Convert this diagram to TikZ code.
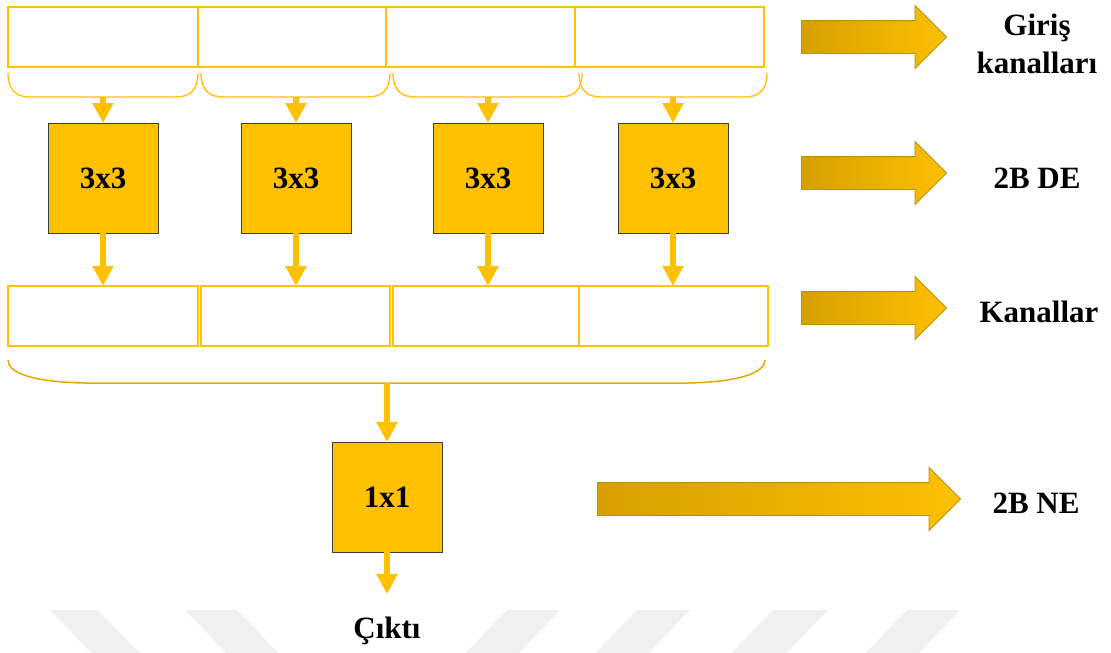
\documentclass[tikz,border=0pt]{standalone}
\usepackage{fontspec}
\setmainfont{Liberation Serif}
\usetikzlibrary{arrows.meta,shapes.arrows}
\definecolor{amber}{HTML}{FFC000}
\definecolor{amberdark}{HTML}{E2A800}
\definecolor{goldL}{HTML}{D6A000}
\definecolor{goldR}{HTML}{FCC000}
\definecolor{goldEdge}{HTML}{BF9000}
\definecolor{faint}{HTML}{F0F0F0}
\definecolor{boxedge}{HTML}{3F3F3F}

\tikzset{
  slot/.style={draw=amber, line width=1.3pt, minimum width=#1, minimum height=60pt,
    inner sep=0pt, outer sep=0pt},
  kernel/.style={fill=amber, draw=boxedge, line width=0.8pt, minimum size=110pt,
    inner sep=0pt, outer sep=0pt, font=\fontsize{31}{36}\selectfont\bfseries},
  flow/.style={draw=amber, line width=6pt, -{Triangle[width=20pt,length=20pt]}},
  bracket/.style={draw=amber, line width=1.3pt},
  bigbracket/.style={draw=amberdark, line width=1.5pt},
  bigarrow/.style={single arrow, single arrow head extend=15pt, single arrow tip angle=90,
    single arrow head indent=0pt, inner xsep=0pt, inner ysep=16pt, minimum height=#1,
    draw=goldEdge, line width=0.9pt, left color=goldL, right color=goldR, anchor=tail},
  caption/.style={font=\fontsize{31}{38}\selectfont\bfseries, inner sep=0pt, anchor=base},
  stripe/.style={fill=faint, draw=none}
}

\begin{document}
\begin{tikzpicture}[x=1pt,y=-1pt]
\useasboundingbox (0,0) rectangle (1111,653);

% faint slanted stripes along the lower edge
\foreach \a/\b in {50/98, 185/237}
  \fill[stripe] (\a,610) -- (\b,610) -- (\b+48,660) -- (\a+48,660) -- cycle;
\foreach \a/\b in {507/560, 637/690, 773/828, 907/960}
  \fill[stripe] (\a,610) -- (\b,610) -- (\b-48,660) -- (\a-48,660) -- cycle;

% input channels
\node[slot=190pt] (t1) at (103,37) {};
\node[slot=188pt] (t2) at (292,37) {};
\node[slot=189pt] (t3) at (480.5,37) {};
\node[slot=189pt] (t4) at (669.5,37) {};

% brackets grouping each input channel
\foreach \i/\a/\b in {1/8/198, 2/201/390, 3/393/582, 4/579/767} {
  \draw[bracket] (\a,73) .. controls (\a,90) and (\a+8,97) .. (\a+22,97)
    -- (\b-22,97) .. controls (\b-8,97) and (\b,90) .. (\b,73);
  \coordinate (b\i) at ({(\a+\b)/2},97);
}

% depthwise 3x3 kernels
\node[kernel] (k1) at (103,178) {3x3};
\node[kernel] (k2) at (296,178) {3x3};
\node[kernel] (k3) at (488,178) {3x3};
\node[kernel] (k4) at (673,178) {3x3};

% resulting channels
\node[slot=190pt] (m1) at (103,316) {};
\node[slot=189pt] (m2) at (295.5,316) {};
\node[slot=186pt] (m3) at (486,316) {};
\node[slot=189pt] (m4) at (673.5,316) {};

% bracket gathering all channels
\draw[bigbracket] (8,360) .. controls (8,372) and (30,382) .. (85,383)
  -- (687,383) .. controls (742,382) and (765,372) .. (765,360);
\coordinate (g) at (387,383);

% pointwise 1x1 kernel and output
\node[kernel] (p) at (387,497) {1x1};
\coordinate (o) at (387,594);
\node[caption] (out) at (387,638) {Çıktı};

% connectors
\foreach \i in {1,2,3,4} {
  \draw[flow] (b\i -| k\i.north) -- (k\i.north);
  \draw[flow] (k\i.south) -- (k\i.south |- m\i.north);
}
\draw[flow] (g) -- (p.north);
\draw[flow] (p.south) -- (o);

% legend arrows and captions
\node[bigarrow=145pt] (a1) at (801,37) {};
\node[bigarrow=145pt] (a2) at (801,173) {};
\node[bigarrow=145pt] (a3) at (801,308) {};
\node[bigarrow=363pt] (a4) at (597,499) {};

\node[caption, align=center] (l1) at (1037,73) {Giriş\\kanalları};
\node[caption] (l2) at (1037,188) {2B DE};
\node[caption] (l3) at (1039,322) {Kanallar};
\node[caption] (l4) at (1036,513) {2B NE};
\end{tikzpicture}
\end{document}
